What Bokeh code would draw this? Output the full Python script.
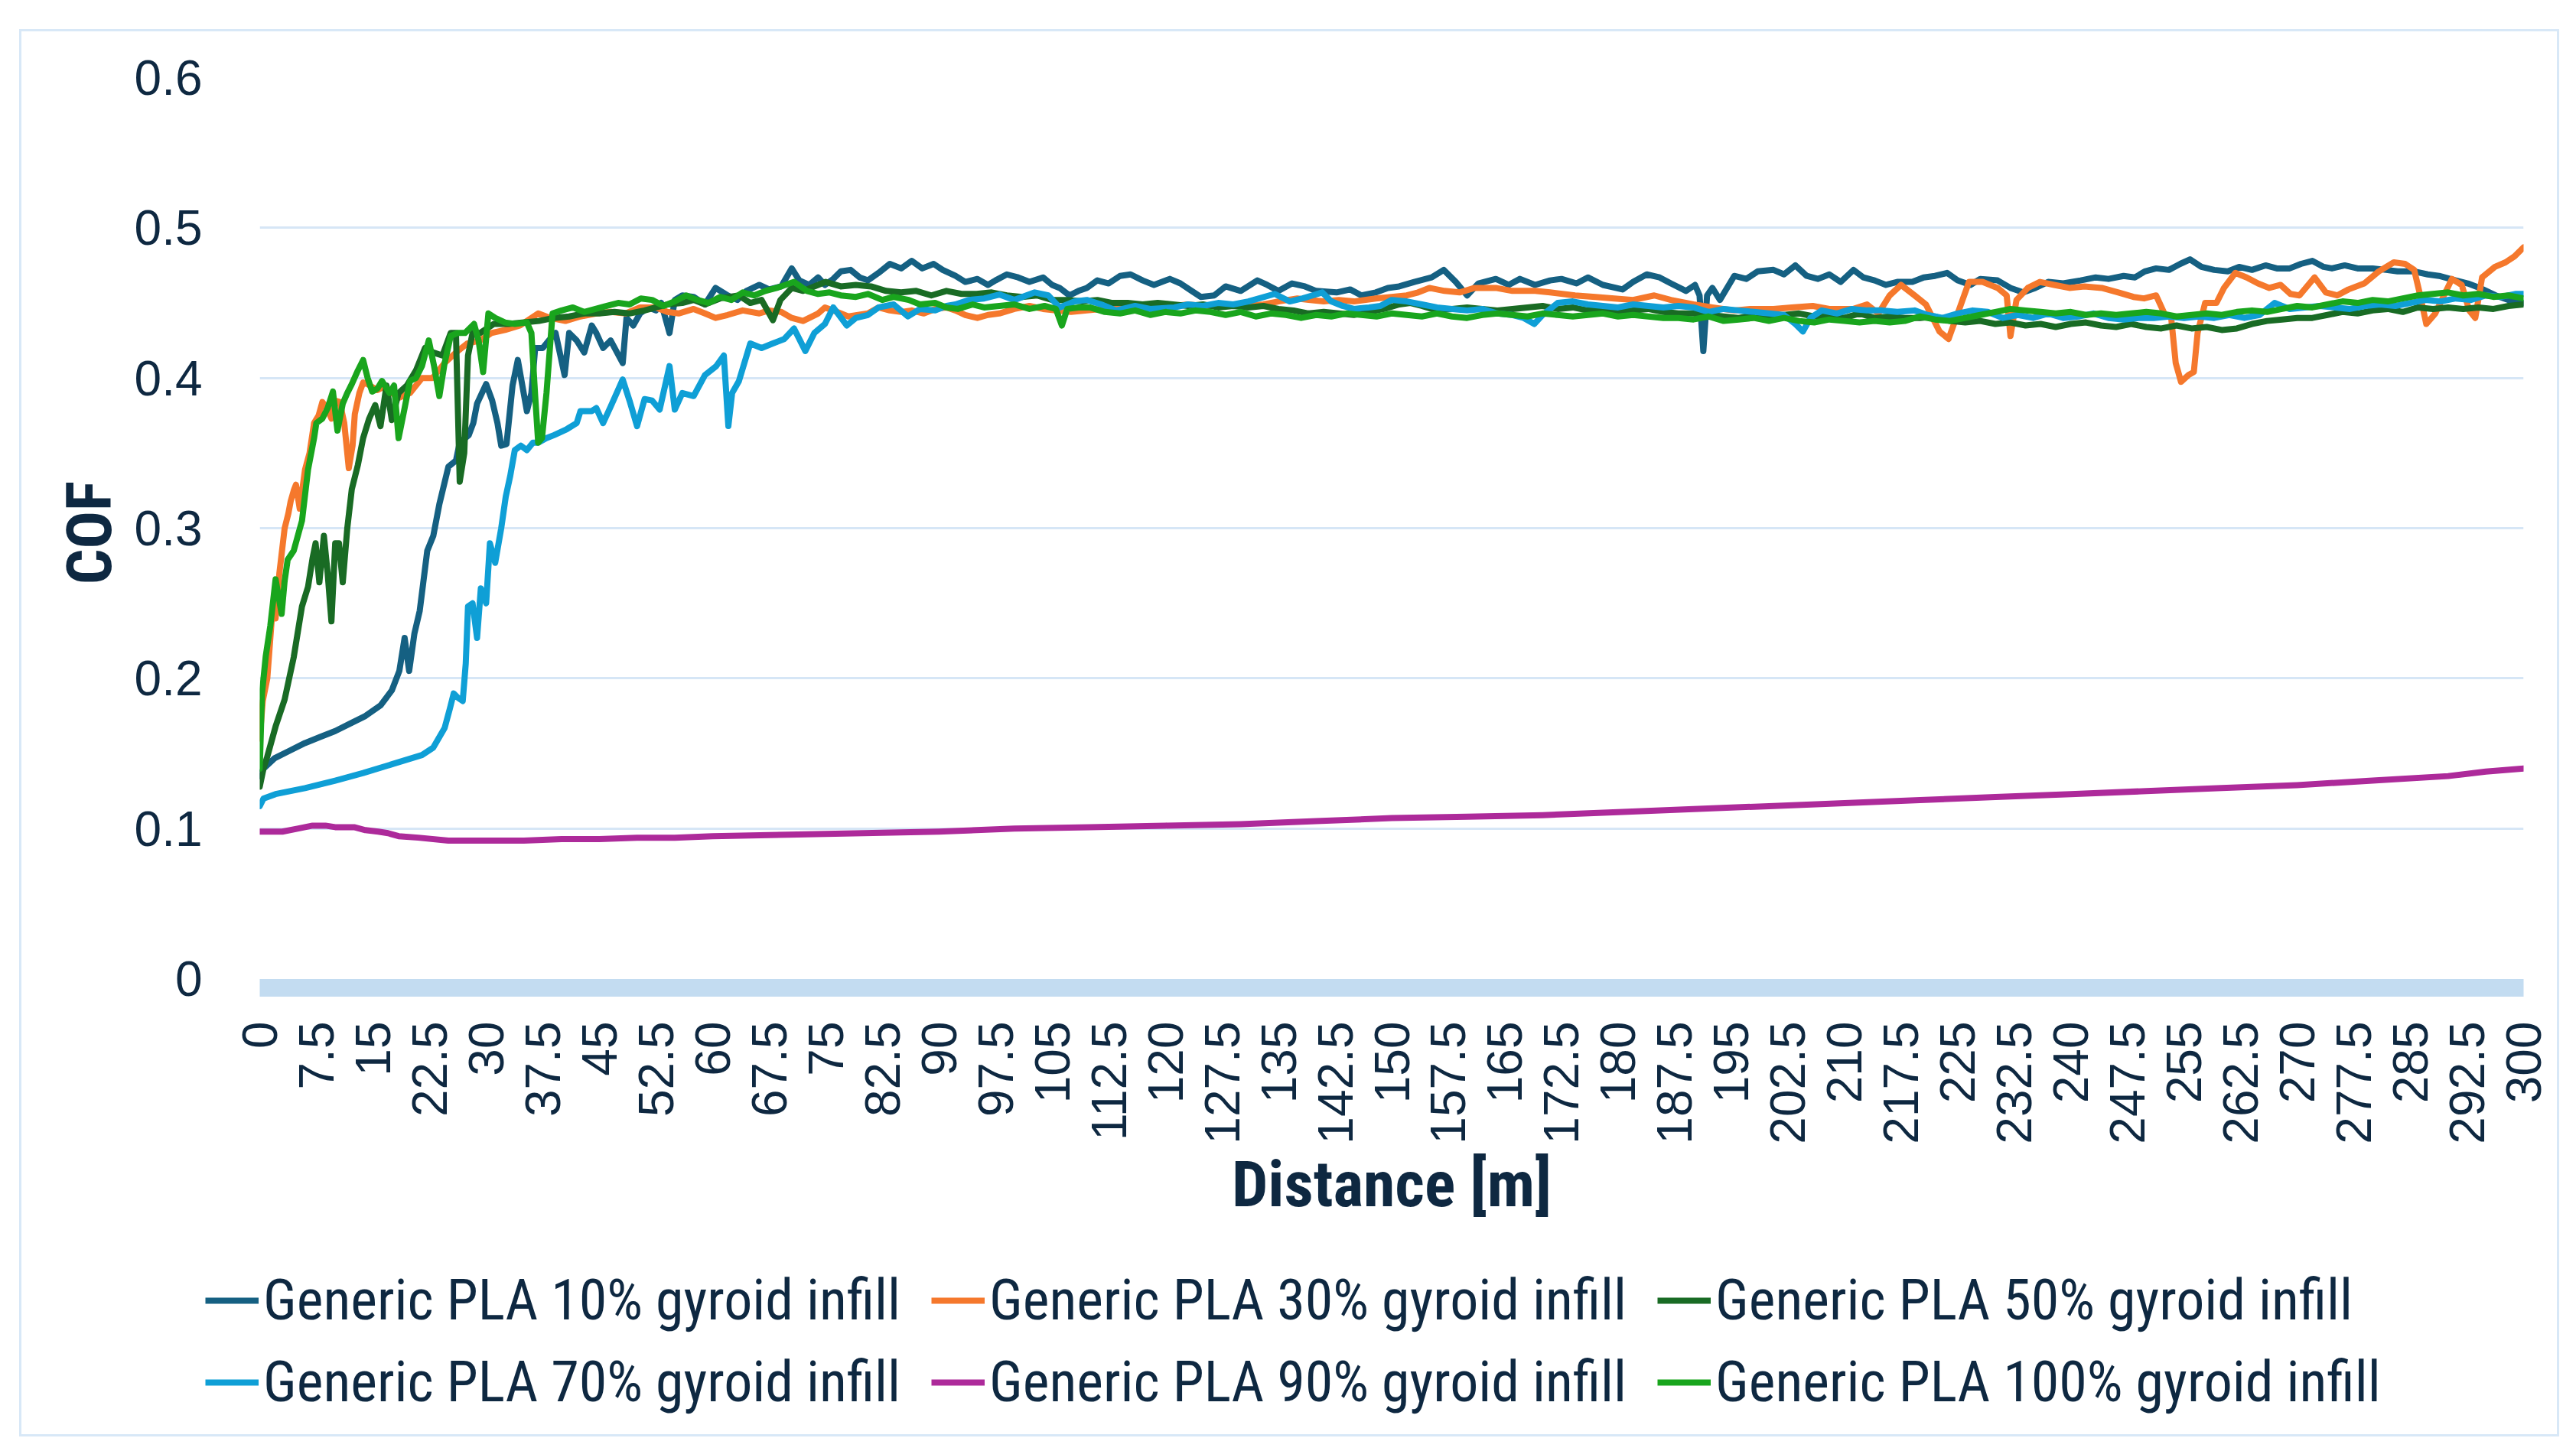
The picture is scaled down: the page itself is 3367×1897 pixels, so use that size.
import math
from bokeh.plotting import figure
from bokeh.layouts import column
from bokeh.models import Range1d, FixedTicker, Legend, LegendItem, ColumnDataSource
from bokeh.embed import file_html
from bokeh.resources import INLINE

# ---------------- data ----------------
x_tick_labels = ["0", "7.5", "15", "22.5", "30", "37.5", "45", "52.5", "60", "67.5", "75",
                 "82.5", "90", "97.5", "105", "112.5", "120", "127.5", "135", "142.5", "150",
                 "157.5", "165", "172.5", "180", "187.5", "195", "202.5", "210", "217.5", "225",
                 "232.5", "240", "247.5", "255", "262.5", "270", "277.5", "285", "292.5", "300"]
y_tick_labels = ["0", "0.1", "0.2", "0.3", "0.4", "0.5", "0.6"]

series_names = ["Generic PLA 10% gyroid infill", "Generic PLA 30% gyroid infill",
                "Generic PLA 50% gyroid infill", "Generic PLA 70% gyroid infill",
                "Generic PLA 90% gyroid infill", "Generic PLA 100% gyroid infill"]
series_colors = ["#156082", "#f5782c", "#196b24", "#0f9fd6", "#ad2a9a", "#19a51d"]

pla_10 = [(0, 0.135), (0.5, 0.14), (2, 0.147), (4, 0.152), (6, 0.157), (8, 0.161), (10, 0.165),
          (12, 0.17), (14, 0.175), (16, 0.182), (17.5, 0.192), (18.5, 0.205), (19.2, 0.227),
          (19.8, 0.205), (20.5, 0.23), (21.2, 0.245), (22.2, 0.285), (23, 0.295), (23.8, 0.316),
          (25, 0.341), (26, 0.345), (26.5, 0.357), (27.7, 0.362), (28.3, 0.37), (28.8, 0.383),
          (30, 0.396), (30.8, 0.385), (31.5, 0.37), (32, 0.355), (32.7, 0.356), (33.5, 0.395),
          (34.2, 0.412), (35.4, 0.378), (36, 0.39), (36.5, 0.42), (37.5, 0.42), (38.3, 0.425),
          (39.2, 0.43), (40.4, 0.402), (41, 0.43), (42, 0.425), (43, 0.417), (44, 0.435),
          (44.6, 0.43), (45.5, 0.42), (46.5, 0.425), (48.1, 0.41), (48.6, 0.44), (49.5, 0.435),
          (50.4, 0.443), (51.5, 0.447), (52.5, 0.445), (53.2, 0.45), (54.3, 0.43), (55, 0.452),
          (56, 0.455), (57.5, 0.454), (59, 0.449), (60.4, 0.46), (62, 0.455), (63.3, 0.452),
          (64.5, 0.458), (66.2, 0.462), (67.5, 0.459), (69.1, 0.461), (70.5, 0.473), (71.5, 0.465),
          (72.8, 0.462), (74, 0.467), (74.9, 0.462), (76, 0.466), (77, 0.471), (78.3, 0.472),
          (79.5, 0.467), (80.6, 0.465), (82, 0.47), (83.5, 0.476), (85, 0.473), (86.4, 0.478),
          (87.8, 0.473), (89.3, 0.476), (90.5, 0.472), (92.2, 0.468), (93.5, 0.464), (95.1, 0.466),
          (96.5, 0.462), (97.5, 0.465), (99, 0.469), (100.5, 0.467), (102, 0.464), (103.8, 0.467),
          (105, 0.462), (106, 0.46), (107.3, 0.455), (108.5, 0.458), (109.6, 0.46), (111, 0.465),
          (112.5, 0.463), (114, 0.468), (115.4, 0.469), (117, 0.465), (118.5, 0.462), (120.6, 0.466),
          (122, 0.463), (123.5, 0.458), (124.7, 0.454), (126.5, 0.455), (128, 0.461), (130, 0.458),
          (132.2, 0.465), (133.5, 0.462), (135, 0.458), (136.8, 0.463), (138.5, 0.461), (140, 0.458),
          (142.7, 0.457), (144.5, 0.459), (146, 0.455), (147.9, 0.457), (149.5, 0.46), (151, 0.461),
          (153, 0.464), (155.3, 0.467), (156.9, 0.472), (158.5, 0.464), (160, 0.455), (161.5, 0.463),
          (163.8, 0.466), (165.5, 0.462), (167, 0.466), (169, 0.462), (171, 0.465), (172.5, 0.466),
          (174.5, 0.463), (176, 0.467), (178, 0.462), (180.6, 0.459), (182, 0.464), (183.8, 0.469),
          (185.5, 0.467), (187, 0.463), (189, 0.458), (190.2, 0.462), (190.8, 0.455), (191.3, 0.418),
          (191.8, 0.455), (192.5, 0.46), (193.5, 0.452), (195.4, 0.468), (197, 0.466), (198.5, 0.471),
          (200.6, 0.472), (202, 0.469), (203.5, 0.475), (205, 0.468), (206.5, 0.466), (208, 0.469),
          (209.5, 0.464), (211.2, 0.472), (212.5, 0.467), (214, 0.465), (215.5, 0.462), (217, 0.464),
          (219, 0.464), (220.5, 0.467), (222, 0.468), (223.6, 0.47), (225, 0.465), (226.7, 0.462),
          (228, 0.466), (230.3, 0.465), (232, 0.46), (233.7, 0.457), (235.3, 0.46), (237, 0.464),
          (239, 0.463), (241.3, 0.465), (243.3, 0.467), (245, 0.466), (247, 0.468), (248.5, 0.467),
          (249.8, 0.471), (251.3, 0.473), (253, 0.472), (254.5, 0.476), (255.8, 0.479), (257.3, 0.474),
          (259, 0.472), (260.8, 0.471), (262.3, 0.474), (264, 0.472), (265.8, 0.475), (267.3, 0.473),
          (269, 0.473), (270.5, 0.476), (272, 0.478), (273.5, 0.474), (274.6, 0.473), (276.3, 0.475),
          (278, 0.473), (280, 0.473), (281.8, 0.472), (283.3, 0.471), (285.5, 0.471), (287.3, 0.469),
          (288.8, 0.468), (291, 0.465), (292.6, 0.463), (294.2, 0.46), (296.3, 0.455), (298, 0.452),
          (299.2, 0.451), (300, 0.45)]

pla_30 = [(0, 0.16), (0.4, 0.185), (1, 0.2), (1.6, 0.24), (2.1, 0.24), (2.6, 0.27), (3.3, 0.3),
          (3.8, 0.31), (4.1, 0.318), (4.5, 0.325), (4.8, 0.329), (5.3, 0.313), (6, 0.339),
          (6.6, 0.35), (7.2, 0.37), (7.8, 0.375), (8.3, 0.384), (8.9, 0.38), (9.5, 0.373),
          (10, 0.385), (10.6, 0.384), (11.2, 0.37), (11.8, 0.34), (12.3, 0.355), (12.6, 0.376),
          (13.2, 0.39), (13.7, 0.397), (14.3, 0.396), (14.9, 0.394), (15.6, 0.392), (16.4, 0.394),
          (17.5, 0.39), (18.5, 0.387), (19.9, 0.39), (21.5, 0.4), (22.9, 0.4), (24.5, 0.41),
          (26, 0.417), (27.5, 0.423), (29.2, 0.425), (30.7, 0.43), (32.5, 0.432), (34.5, 0.435),
          (36.9, 0.443), (38.5, 0.44), (40.5, 0.438), (42.5, 0.441), (44.6, 0.443), (46.5, 0.444),
          (48.5, 0.443), (50.4, 0.447), (52.5, 0.447), (54, 0.444), (55.5, 0.443), (57.5, 0.446),
          (59, 0.443), (60.4, 0.44), (62, 0.442), (64, 0.445), (66.2, 0.443), (67.5, 0.445),
          (69.1, 0.444), (70.5, 0.44), (72, 0.438), (74, 0.443), (74.9, 0.447), (76.5, 0.444),
          (78, 0.441), (80.6, 0.443), (82, 0.447), (83.5, 0.445), (85, 0.444), (86.4, 0.445),
          (88, 0.443), (89.5, 0.446), (91, 0.447), (92.2, 0.445), (93.5, 0.442), (95.1, 0.44),
          (96.5, 0.442), (98, 0.443), (100, 0.446), (102, 0.448), (103.8, 0.446), (105.5, 0.445),
          (107.5, 0.444), (109.6, 0.445), (111.5, 0.446), (113.5, 0.447), (115.4, 0.446),
          (117.5, 0.447), (119.5, 0.448), (121.2, 0.448), (123, 0.449), (125, 0.448), (127, 0.448),
          (129, 0.449), (131, 0.448), (133, 0.449), (135, 0.451), (137.5, 0.453), (139, 0.452),
          (141, 0.451), (143, 0.452), (145, 0.451), (147.9, 0.453), (150, 0.454), (152, 0.455),
          (153.5, 0.457), (155, 0.46), (157, 0.458), (159, 0.457), (161, 0.46), (163.8, 0.46),
          (166, 0.458), (169, 0.458), (171, 0.457), (174.3, 0.455), (177, 0.454), (179.5, 0.453),
          (182, 0.452), (184.8, 0.455), (187, 0.452), (190, 0.449), (192.5, 0.447), (195.4, 0.445),
          (197.5, 0.446), (200.6, 0.446), (203, 0.447), (205.8, 0.448), (208, 0.446), (211.2, 0.446),
          (213, 0.449), (214.5, 0.443), (216, 0.455), (217.5, 0.462), (219.3, 0.455), (220.8, 0.449),
          (222.6, 0.431), (223.8, 0.426), (224.8, 0.44), (226.5, 0.464), (228.3, 0.464),
          (230.3, 0.46), (231.5, 0.455), (232, 0.428), (232.8, 0.452), (234.3, 0.46), (235.9, 0.464),
          (237.8, 0.462), (239.8, 0.46), (241.8, 0.461), (244.1, 0.46), (246.3, 0.457),
          (248.3, 0.454), (249.7, 0.453), (251.3, 0.455), (252.4, 0.443), (253.3, 0.44),
          (253.9, 0.41), (254.6, 0.3975), (255.6, 0.402), (256.3, 0.404), (256.8, 0.43),
          (257.8, 0.45), (259.3, 0.45), (260.3, 0.46), (261.8, 0.47), (263.3, 0.467), (264.8, 0.463),
          (266.3, 0.46), (267.8, 0.462), (269.1, 0.456), (270.3, 0.455), (272.3, 0.467),
          (273.8, 0.457), (275.3, 0.455), (276.8, 0.459), (278.9, 0.463), (280.8, 0.471),
          (282.8, 0.477), (284.3, 0.476), (285.5, 0.472), (286.3, 0.455), (287.1, 0.436),
          (288.3, 0.443), (290.5, 0.466), (291.8, 0.462), (292.8, 0.445), (293.6, 0.44),
          (294.5, 0.467), (296.2, 0.474), (297.6, 0.477), (298.8, 0.481), (300, 0.487)]

pla_50 = [(0, 0.128), (0.5, 0.14), (1, 0.148), (2.1, 0.168), (3.3, 0.186), (4.5, 0.214),
          (5.6, 0.248), (6.4, 0.261), (7, 0.28), (7.4, 0.29), (7.9, 0.264), (8.5, 0.295),
          (9, 0.27), (9.5, 0.238), (10, 0.29), (10.5, 0.29), (11, 0.264), (11.6, 0.3), (12.2, 0.326),
          (13, 0.342), (13.7, 0.36), (14.5, 0.373), (15.3, 0.382), (16, 0.368), (16.8, 0.395),
          (17.5, 0.372), (18.4, 0.39), (19.5, 0.395), (20.7, 0.405), (21.9, 0.42), (23, 0.417),
          (24.2, 0.415), (25.3, 0.43), (26, 0.43), (26.5, 0.331), (27.1, 0.35), (27.6, 0.415),
          (28.2, 0.43), (29.2, 0.43), (31, 0.436), (33, 0.436), (35, 0.437), (37, 0.438), (39, 0.44),
          (41, 0.441), (43, 0.443), (45, 0.443), (47, 0.444), (49, 0.443), (51, 0.445),
          (52.5, 0.447), (54, 0.449), (56, 0.45), (57.5, 0.452), (59, 0.449), (61, 0.453),
          (63.5, 0.455), (65, 0.45), (66.5, 0.452), (68, 0.4385), (69, 0.452), (70.5, 0.46),
          (72, 0.458), (74, 0.462), (75, 0.464), (77, 0.461), (79, 0.462), (81, 0.461), (83, 0.458),
          (85, 0.457), (87, 0.458), (89, 0.455), (91, 0.458), (93, 0.456), (95, 0.456), (97, 0.457),
          (99, 0.455), (101, 0.454), (103, 0.455), (105, 0.452), (107, 0.452), (109, 0.451),
          (111, 0.452), (113, 0.45), (115, 0.45), (117, 0.449), (119, 0.45), (121, 0.449),
          (123, 0.448), (125, 0.449), (127, 0.447), (129, 0.448), (131, 0.447), (133, 0.448),
          (135, 0.446), (137, 0.445), (139, 0.443), (141, 0.444), (143, 0.443), (145, 0.442),
          (147, 0.444), (149, 0.446), (151, 0.449), (152.5, 0.45), (154, 0.448), (156, 0.445),
          (158, 0.446), (160, 0.447), (162, 0.446), (164, 0.445), (166, 0.446), (168, 0.447),
          (170, 0.448), (172, 0.446), (174, 0.447), (176, 0.445), (178, 0.446), (180, 0.444),
          (182, 0.445), (184, 0.446), (186, 0.444), (188, 0.443), (190, 0.443), (192, 0.442),
          (194, 0.441), (196, 0.44), (198, 0.442), (200, 0.441), (202, 0.442), (204, 0.443),
          (206, 0.441), (208, 0.442), (210, 0.44), (212, 0.443), (214, 0.44), (216, 0.441),
          (218, 0.44), (220, 0.44), (222, 0.441), (224, 0.438), (226, 0.437), (228, 0.438),
          (230, 0.436), (232, 0.437), (234, 0.435), (236, 0.436), (238, 0.434), (240, 0.436),
          (242, 0.437), (244, 0.435), (246, 0.434), (248, 0.436), (250, 0.434), (252, 0.433),
          (254, 0.435), (256, 0.433), (258, 0.434), (260, 0.432), (262, 0.433), (264, 0.436),
          (266, 0.438), (268, 0.439), (270, 0.44), (272, 0.44), (274, 0.442), (276, 0.444),
          (278, 0.443), (280, 0.445), (282, 0.446), (284, 0.444), (286, 0.447), (288, 0.446),
          (290, 0.447), (292, 0.446), (294, 0.447), (296, 0.446), (298, 0.448), (300, 0.449)]

pla_70 = [(0, 0.115), (0.5, 0.12), (2.1, 0.123), (6, 0.127), (10, 0.132), (13.7, 0.137),
          (17.6, 0.143), (21.5, 0.149), (23, 0.154), (24.5, 0.167), (25.2, 0.18), (25.7, 0.19),
          (26.3, 0.187), (26.9, 0.185), (27.3, 0.21), (27.6, 0.248), (28.2, 0.25), (28.8, 0.227),
          (29.3, 0.26), (30, 0.25), (30.5, 0.29), (31.2, 0.277), (32, 0.3), (32.6, 0.321),
          (33.2, 0.335), (33.8, 0.352), (34.6, 0.355), (35.4, 0.352), (36.2, 0.357), (36.9, 0.357),
          (38, 0.36), (39, 0.362), (40.7, 0.366), (42, 0.37), (42.5, 0.378), (44, 0.378),
          (44.6, 0.38), (45.5, 0.37), (46.5, 0.381), (48.1, 0.399), (49, 0.385), (50, 0.368),
          (51, 0.386), (52, 0.385), (53, 0.379), (54.3, 0.408), (55, 0.379), (56, 0.39),
          (57.5, 0.388), (59, 0.402), (60.5, 0.408), (61.5, 0.415), (62.1, 0.368), (62.6, 0.39),
          (63.5, 0.398), (65, 0.423), (66.5, 0.42), (68, 0.423), (69.5, 0.426), (70.8, 0.433),
          (71.6, 0.425), (72.3, 0.418), (73.5, 0.43), (74.9, 0.436), (76, 0.447), (77.8, 0.435),
          (79, 0.44), (80.6, 0.442), (82, 0.447), (84, 0.449), (85.9, 0.441), (87.5, 0.446),
          (89.5, 0.445), (91, 0.448), (92.2, 0.449), (94, 0.452), (96, 0.453), (98, 0.4556),
          (100, 0.452), (102.7, 0.457), (104.5, 0.455), (106, 0.447), (108, 0.451), (109.6, 0.452),
          (111.5, 0.449), (113.5, 0.445), (116, 0.448), (118, 0.446), (121.2, 0.447), (123, 0.449),
          (125, 0.448), (127, 0.45), (129, 0.449), (131, 0.451), (134.5, 0.456), (136.5, 0.451),
          (138.2, 0.453), (139.5, 0.455), (140.8, 0.457), (142, 0.451), (143.5, 0.448),
          (145, 0.446), (147, 0.447), (148.5, 0.448), (150, 0.452), (152, 0.451), (154, 0.449),
          (156, 0.447), (158, 0.446), (160, 0.445), (162, 0.446), (164, 0.443), (166, 0.442),
          (167.5, 0.44), (168.9, 0.436), (170, 0.442), (172, 0.45), (174, 0.451), (176, 0.449),
          (178, 0.448), (180, 0.447), (182, 0.449), (184, 0.448), (186, 0.447), (188, 0.448),
          (190, 0.447), (192, 0.444), (194, 0.446), (196, 0.445), (198, 0.444), (200, 0.443),
          (202, 0.442), (203.5, 0.436), (204.5, 0.431), (205.5, 0.44), (207, 0.445), (209, 0.443),
          (211, 0.446), (213, 0.445), (215, 0.445), (217, 0.444), (219.3, 0.445), (221, 0.442),
          (223, 0.44), (225, 0.443), (227, 0.445), (229, 0.444), (231, 0.44), (233, 0.442),
          (235, 0.44), (237, 0.443), (239, 0.44), (241, 0.441), (243, 0.443), (245, 0.44),
          (247, 0.439), (249, 0.44), (251, 0.44), (253, 0.441), (255, 0.44), (257, 0.441),
          (259, 0.44), (261, 0.442), (263, 0.44), (265, 0.442), (267, 0.45), (269, 0.446),
          (271, 0.447), (273, 0.448), (275, 0.447), (277, 0.446), (279, 0.448), (281, 0.449),
          (283, 0.448), (285, 0.45), (287, 0.452), (289, 0.451), (291, 0.453), (293, 0.452),
          (295, 0.455), (297, 0.454), (299, 0.456), (300, 0.456)]

pla_90 = [(0, 0.098), (3, 0.098), (5, 0.1), (7, 0.102), (8.7, 0.102), (10, 0.101), (12.5, 0.101),
          (14, 0.099), (15.7, 0.098), (17, 0.097), (18.4, 0.095), (21, 0.094), (25, 0.092),
          (30, 0.092), (35, 0.092), (40, 0.093), (45, 0.093), (50, 0.094), (55, 0.094), (60, 0.095),
          (70, 0.096), (80, 0.097), (90, 0.098), (100, 0.1), (110, 0.101), (120, 0.102),
          (130, 0.103), (140, 0.105), (150, 0.107), (160, 0.108), (170, 0.109), (180, 0.111),
          (190, 0.113), (200, 0.115), (210, 0.117), (220, 0.119), (230, 0.121), (240, 0.123),
          (250, 0.125), (260, 0.127), (270, 0.129), (280, 0.132), (290, 0.135), (295, 0.138),
          (300, 0.14)]

pla_100 = [(0, 0.14), (0.3, 0.19), (0.8, 0.215), (1.4, 0.235), (2.1, 0.266), (2.9, 0.243),
           (3.3, 0.265), (3.7, 0.279), (4.5, 0.285), (5.6, 0.305), (6.4, 0.339), (7.2, 0.36),
           (7.5, 0.37), (8.3, 0.373), (9, 0.38), (9.7, 0.391), (10.3, 0.365), (11, 0.383),
           (11.6, 0.39), (12.2, 0.396), (13, 0.405), (13.7, 0.412), (14.3, 0.4), (14.9, 0.391),
           (15.6, 0.393), (16.2, 0.398), (17.2, 0.39), (17.8, 0.395), (18.4, 0.36), (19.2, 0.38),
           (19.9, 0.398), (20.7, 0.4), (21.5, 0.408), (22.4, 0.425), (23.1, 0.408), (23.8, 0.388),
           (24.5, 0.41), (25.3, 0.428), (26.2, 0.43), (27.2, 0.43), (28.4, 0.436), (29, 0.425),
           (29.6, 0.404), (30.3, 0.443), (31.2, 0.44), (32.5, 0.437), (33.8, 0.436), (35.4, 0.437),
           (36, 0.43), (36.5, 0.388), (36.9, 0.357), (37.4, 0.36), (38, 0.39), (38.8, 0.443),
           (40, 0.445), (41.5, 0.447), (43, 0.444), (44.5, 0.446), (46, 0.448), (47.5, 0.45),
           (49, 0.449), (50.5, 0.453), (52, 0.452), (53.5, 0.448), (55, 0.451), (56.5, 0.455),
           (58, 0.452), (59.5, 0.45), (61, 0.454), (62.5, 0.452), (64, 0.457), (65.5, 0.455),
           (67, 0.458), (68.5, 0.46), (70.8, 0.464), (72.5, 0.458), (74, 0.456), (75.5, 0.457),
           (77, 0.455), (79, 0.454), (80.6, 0.456), (82.5, 0.452), (84, 0.454), (86, 0.452),
           (87.5, 0.449), (89.5, 0.45), (91, 0.447), (92.5, 0.446), (94.5, 0.449), (96, 0.447),
           (98, 0.448), (100, 0.449), (102, 0.446), (104, 0.448), (105.5, 0.446), (106.3, 0.435),
           (107, 0.446), (108.5, 0.447), (110, 0.447), (112, 0.444), (114, 0.443), (116, 0.445),
           (118, 0.442), (120, 0.444), (122, 0.443), (124, 0.445), (126, 0.444), (128, 0.442),
           (130, 0.444), (132, 0.441), (134, 0.443), (136, 0.442), (138, 0.44), (140, 0.442),
           (142, 0.441), (144, 0.443), (146, 0.442), (148, 0.441), (150, 0.443), (152, 0.442),
           (154, 0.441), (156, 0.443), (158, 0.441), (160, 0.44), (162, 0.442), (164, 0.443),
           (166, 0.442), (168, 0.441), (170, 0.443), (172, 0.442), (174, 0.441), (176, 0.442),
           (178, 0.443), (180, 0.441), (182, 0.442), (184, 0.441), (186, 0.44), (188, 0.44),
           (190, 0.439), (192, 0.441), (194, 0.438), (196, 0.439), (198, 0.44), (200, 0.438),
           (202, 0.44), (204, 0.438), (206, 0.437), (208, 0.439), (210, 0.438), (212, 0.437),
           (214, 0.438), (216, 0.437), (218, 0.438), (220, 0.441), (222, 0.439), (224, 0.438),
           (226, 0.44), (228, 0.442), (230, 0.444), (232, 0.446), (234, 0.445), (236, 0.444),
           (238, 0.443), (240, 0.444), (242, 0.442), (244, 0.443), (246, 0.442), (248, 0.443),
           (250, 0.444), (252, 0.443), (254, 0.441), (256, 0.442), (258, 0.443), (260, 0.442),
           (262, 0.444), (264, 0.445), (266, 0.444), (268, 0.446), (270, 0.448), (272, 0.447),
           (274, 0.449), (276, 0.451), (278, 0.45), (280, 0.452), (282, 0.451), (284, 0.453),
           (286, 0.455), (288, 0.456), (290, 0.457), (292, 0.455), (294, 0.456), (296, 0.454),
           (298, 0.455), (300, 0.453)]

all_series = [pla_10, pla_30, pla_50, pla_70, pla_90, pla_100]

# ---------------- styling constants ----------------
TEXT = "#0e2841"
NARROW = "'Liberation Sans Narrow', 'Roboto Condensed', 'DejaVu Sans Condensed', sans-serif"
ARIAL = "'Liberation Sans', Arial, sans-serif"
LINE_W = 8
FIG_W = 3314
TOP_H = 1580
LEG_H = 254

p = figure(width=FIG_W, height=TOP_H,
           x_range=Range1d(0, 300), y_range=Range1d(-0.006, 0.6),
           min_border_left=311, min_border_right=44, min_border_top=60,
           min_border_bottom=TOP_H - 1250,
           output_backend="svg", toolbar_location=None)
p.frame_align = False
p.outline_line_color = None
p.background_fill_color = "white"
p.border_fill_color = "white"

# axes
x_ticks = [float(t) for t in x_tick_labels]
p.xaxis.ticker = FixedTicker(ticks=x_ticks)
p.xaxis.major_label_overrides = {t: lab for t, lab in zip(x_ticks, x_tick_labels)}
p.xaxis.major_label_orientation = math.pi / 2
p.xaxis.major_label_text_font = ARIAL
p.xaxis.major_label_text_font_size = "64px"
p.xaxis.major_label_text_color = TEXT
p.xaxis.major_label_standoff = 38
p.xaxis.major_tick_line_color = None
p.xaxis.minor_tick_line_color = None
p.xaxis.axis_line_color = "#c3dcf1"
p.xaxis.axis_line_width = 23
p.xaxis.axis_label = "Distance [m]"
p.xaxis.axis_label_text_font = NARROW
p.xaxis.axis_label_text_font_style = "bold"
p.xaxis.axis_label_text_font_size = "84px"
p.xaxis.axis_label_text_color = TEXT
p.xaxis.axis_label_standoff = 0

y_ticks = [float(t) for t in y_tick_labels]
p.yaxis.ticker = FixedTicker(ticks=y_ticks)
p.yaxis.major_label_overrides = {t: lab for t, lab in zip(y_ticks, y_tick_labels)}
p.yaxis.major_label_text_font = ARIAL
p.yaxis.major_label_text_font_size = "64px"
p.yaxis.major_label_text_color = TEXT
p.yaxis.major_label_standoff = 69
p.yaxis.major_tick_line_color = None
p.yaxis.minor_tick_line_color = None
p.yaxis.axis_line_color = None
p.yaxis.axis_label = "COF"
p.yaxis.axis_label_text_font = NARROW
p.yaxis.axis_label_text_font_style = "bold"
p.yaxis.axis_label_text_font_size = "82px"
p.yaxis.axis_label_text_color = TEXT
p.yaxis.axis_label_standoff = 8

p.xgrid.grid_line_color = None
p.ygrid.ticker = FixedTicker(ticks=y_ticks[1:])
p.ygrid.grid_line_color = "#d6e6f6"
p.ygrid.grid_line_width = 3

for pts, color in zip(all_series, series_colors):
    src = ColumnDataSource(dict(dist=[a for a, b in pts], cof=[b for a, b in pts]))
    p.line("dist", "cof", source=src, line_color=color, line_width=LINE_W,
           line_join="round", line_cap="round")

# legend strip (separate canvas so the legend is not clipped by the plot frame)
lg = figure(width=FIG_W, height=LEG_H, x_range=Range1d(0, 1), y_range=Range1d(0, 1),
            x_axis_type=None, y_axis_type=None,
            min_border=0, min_border_left=0, min_border_right=0,
            min_border_top=0, min_border_bottom=0,
            output_backend="svg", toolbar_location=None)
lg.frame_align = False
lg.grid.visible = False
lg.outline_line_color = None
lg.border_fill_color = "white"
key_renderers = []
for color in series_colors:
    key_renderers.append(lg.line(x=[-2, -1], y=[-2, -1], line_color=color, line_width=LINE_W))
legend = Legend(items=[LegendItem(label=series_names[i], renderers=[key_renderers[i]]) for i in range(6)],
                orientation="horizontal", ncols=3, location=(240, 25),
                glyph_width=70, glyph_height=60, label_standoff=6, spacing=20, label_width=853,
                padding=0, margin=0, background_fill_alpha=0, border_line_alpha=0,
                label_text_font=NARROW, label_text_font_size="74px",
                label_text_color=TEXT)
lg.add_layout(legend)

layout = column(p, lg, spacing=0)
layout.margin = (38, 0, 0, 25)
layout.styles = {"border": "3px solid #d8e8f7"}

open("out.html", "w").write(file_html(layout, INLINE))
